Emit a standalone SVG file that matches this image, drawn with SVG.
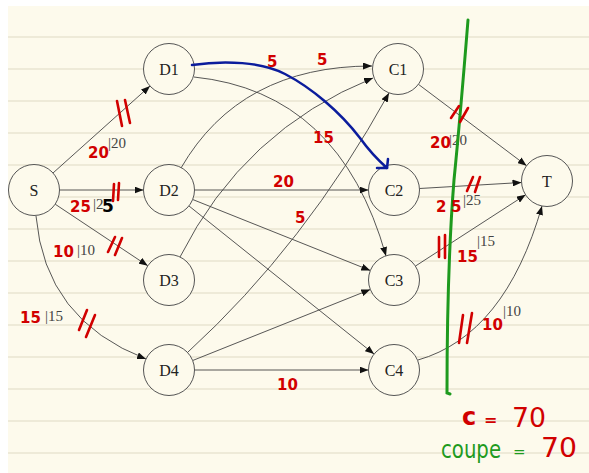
<svg xmlns="http://www.w3.org/2000/svg" width="589" height="473" viewBox="0 0 589 473">
<defs>
<marker id="arr" markerWidth="9" markerHeight="7" refX="9" refY="3.5" orient="auto" markerUnits="userSpaceOnUse">
<path d="M0,0 L9,3.5 L0,7 z" fill="#111"/>
</marker>
<style>
.rule{stroke:#e9e5d2;stroke-width:1.5}
.node circle{fill:#fdfaec;stroke:#555;stroke-width:1}
.node text{font-family:"Liberation Serif",serif;font-size:16px;fill:#222;text-anchor:middle}
.edge{fill:none;stroke:#444;stroke-width:0.9;marker-end:url(#arr)}
.lbl{font-family:"Liberation Serif",serif;font-size:15px;fill:#444}
.hw{font-family:"DejaVu Sans",sans-serif;font-weight:bold;font-size:15px;fill:#d10000}
.tick{stroke:#d10000;stroke-width:2.6;stroke-linecap:round;fill:none}
</style>
</defs>
<rect x="0" y="0" width="589" height="473" fill="#ffffff"/>
<rect x="8" y="6" width="581" height="467" fill="#fdfaec"/>
<g id="rules">
<line class="rule" x1="8" y1="37" x2="589" y2="37"/>
<line class="rule" x1="8" y1="69" x2="589" y2="69"/>
<line class="rule" x1="8" y1="101" x2="589" y2="101"/>
<line class="rule" x1="8" y1="133" x2="589" y2="133"/>
<line class="rule" x1="8" y1="165" x2="589" y2="165"/>
<line class="rule" x1="8" y1="197" x2="589" y2="197"/>
<line class="rule" x1="8" y1="229" x2="589" y2="229"/>
<line class="rule" x1="8" y1="261" x2="589" y2="261"/>
<line class="rule" x1="8" y1="293" x2="589" y2="293"/>
<line class="rule" x1="8" y1="325" x2="589" y2="325"/>
<line class="rule" x1="8" y1="357" x2="589" y2="357"/>
<line class="rule" x1="8" y1="389" x2="589" y2="389"/>
<line class="rule" x1="8" y1="421" x2="589" y2="421"/>
<line class="rule" x1="8" y1="453" x2="589" y2="453"/>
</g>
<g id="connectors">
<path class="edge" d="M53,173 L150,86"/>
<path class="edge" d="M59.5,190 L143.5,190"/>
<path class="edge" d="M55.2,204.2 L147.8,265.8"/>
<path class="edge" d="M36,216 Q45,320 146,359"/>
<path class="edge" d="M194,77 Q340,92 386,256"/>
<path class="edge" d="M181,168 Q240,66 372,66"/>
<path class="edge" d="M180,257 Q244,130 373,78"/>
<path class="edge" d="M188,352 Q305,245 389,93"/>
<path class="edge" d="M194.5,190 L368.5,190"/>
<path class="edge" d="M192.7,199.5 L370.3,270.5"/>
<path class="edge" d="M188.9,205.9 L374.1,354.1"/>
<path class="edge" d="M192.7,360.5 L370.3,289.5"/>
<path class="edge" d="M194.5,370 L368.5,370"/>
<path class="edge" d="M418.4,84.3 L526.6,165.7"/>
<path class="edge" d="M419.5,188.5 L521.5,182.5"/>
<path class="edge" d="M415.4,266.1 L525.6,194.8"/>
<path class="edge" d="M418,360 Q505,335 542,206"/>
</g>
<g id="edge-labels">
<text class="lbl" x="108" y="148">|20</text>
<text class="lbl" x="93" y="209">|2</text>
<text x="102" y="212" style="font-family:'DejaVu Sans',sans-serif;font-weight:bold;font-size:17px;fill:#000">5</text>
<text class="lbl" x="77" y="255">|10</text>
<text class="lbl" x="45" y="321">|15</text>
<text class="lbl" x="449" y="145">|20</text>
<text class="lbl" x="463" y="205">|25</text>
<text class="lbl" x="477" y="246">|15</text>
<text class="lbl" x="503" y="316">|10</text>
</g>
<g id="S" class="node"><circle cx="34" cy="190" r="25.5"/><text x="34" y="195.5">S</text></g>
<g id="D1" class="node"><circle cx="169" cy="69" r="25.5"/><text x="169" y="74.5">D1</text></g>
<g id="D2" class="node"><circle cx="169" cy="190" r="25.5"/><text x="169" y="195.5">D2</text></g>
<g id="D3" class="node"><circle cx="169" cy="280" r="25.5"/><text x="169" y="285.5">D3</text></g>
<g id="D4" class="node"><circle cx="169" cy="370" r="25.5"/><text x="169" y="375.5">D4</text></g>
<g id="C1" class="node"><circle cx="398" cy="69" r="25.5"/><text x="398" y="74.5">C1</text></g>
<g id="C2" class="node"><circle cx="394" cy="190" r="25.5"/><text x="394" y="195.5">C2</text></g>
<g id="C3" class="node"><circle cx="394" cy="280" r="25.5"/><text x="394" y="285.5">C3</text></g>
<g id="C4" class="node"><circle cx="394" cy="370" r="25.5"/><text x="394" y="375.5">C4</text></g>
<g id="T" class="node"><circle cx="547" cy="181" r="25.5"/><text x="547" y="186.5">T</text></g>
<g id="annotations">
<path d="M192,65 C225,60 262,62 285,74 C312,88 340,112 360,138 C370,152 378,160 387,168" fill="none" stroke="#0b1c9c" stroke-width="2.5" stroke-linecap="round"/>
<path d="M377,168 L387,168 L388,159" fill="none" stroke="#0b1c9c" stroke-width="2.5" stroke-linecap="round" stroke-linejoin="round"/>
<path d="M468,20 C464,70 459,130 454,180 C450,230 447,290 447,393 L450,394" fill="none" stroke="#1e9a1e" stroke-width="3" stroke-linecap="round"/>
<path class="tick" d="M117,101 L122,126 M125,100 L130,123"/>
<path class="tick" d="M114,184 L113,201 M119,183 L118,200"/>
<path class="tick" d="M115,237 L108,252 M122,238 L115,255"/>
<path class="tick" d="M87,310 L79,330 M95,315 L86,337"/>
<path class="tick" d="M459,106 L451,118 M468,108 L460,122"/>
<path class="tick" d="M473,177 L467,191 M480,177 L475,192"/>
<path class="tick" d="M439,237 L439,257 M445,235 L445,258"/>
<path class="tick" d="M463,315 L459,343 M472,313 L467,343"/>
<text class="hw" x="88" y="158">20</text>
<text class="hw" x="70" y="212">25</text>
<text class="hw" x="53" y="257">10</text>
<text class="hw" x="20" y="323">15</text>
<text class="hw" x="267" y="67">5</text>
<text class="hw" x="317" y="65">5</text>
<text class="hw" x="313" y="143">15</text>
<text class="hw" x="273" y="187">20</text>
<text class="hw" x="295" y="223">5</text>
<text class="hw" x="277" y="390">10</text>
<text class="hw" x="430" y="148">20</text>
<text class="hw" x="436" y="212">2</text>
<text class="hw" x="451" y="212">5</text>
<text class="hw" x="457" y="262">15</text>
<text class="hw" x="482" y="330">10</text>
<text class="hw" x="462" y="425" style="font-size:24px">c</text>
<text class="hw" x="484" y="425" style="font-size:16px">=</text>
<text class="hw" x="512" y="427" style="font-size:26px;font-weight:normal" textLength="34" lengthAdjust="spacingAndGlyphs">70</text>
<text x="441" y="458" textLength="60" lengthAdjust="spacingAndGlyphs" style="font-family:'DejaVu Sans',sans-serif;font-size:24px;fill:#1e9a1e">coupe</text>
<text x="513" y="457" style="font-family:'DejaVu Sans',sans-serif;font-size:15px;fill:#1e9a1e">=</text>
<text class="hw" x="541" y="457" style="font-size:26px;font-weight:normal" textLength="36" lengthAdjust="spacingAndGlyphs">70</text>
</g>
</svg>
